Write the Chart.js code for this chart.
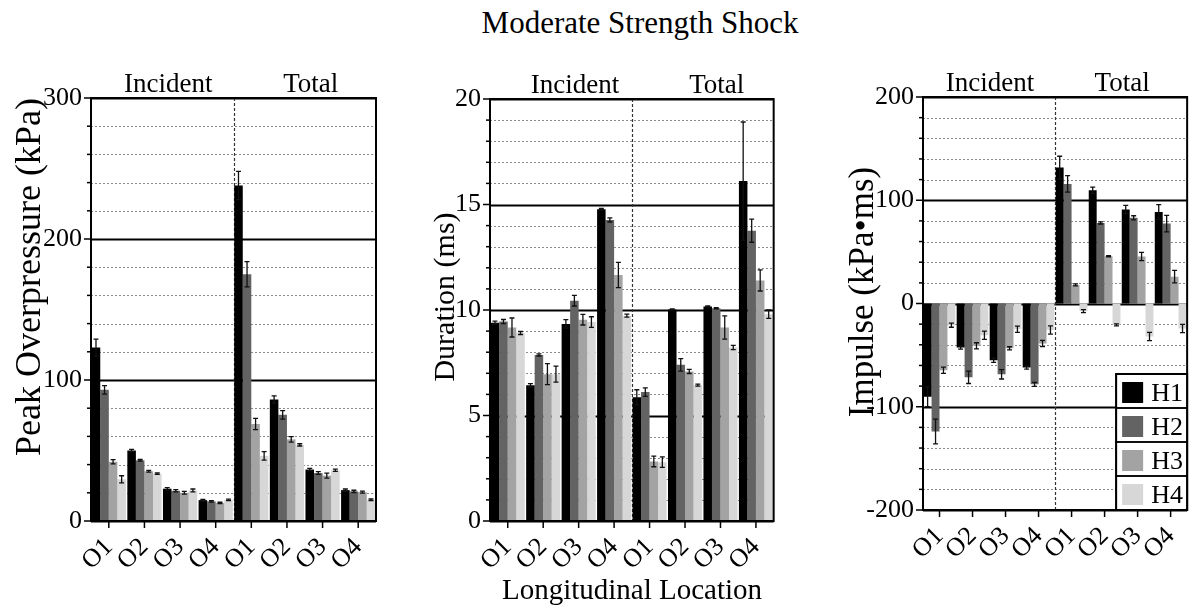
<!DOCTYPE html>
<html>
<head>
<meta charset="utf-8">
<script src="https://cdn.jsdelivr.net/npm/chart.js@4.4.0/dist/chart.umd.min.js"></script>
<style>
  body { margin: 0; background: #fff; width: 1204px; height: 613px; position: relative; overflow: hidden; font-family: "Liberation Serif", serif; color: #000; }
  canvas { position: absolute; top: 0; }
  .txt { position: absolute; text-align: center; white-space: nowrap; }
  #title { left: 440px; width: 400px; top: 8px; font-size: 31px; line-height: 30px; }
  #xtitle { left: 432px; width: 400px; top: 575px; font-size: 29px; line-height: 29px; }
</style>
</head>
<body>
<div class="txt" id="title">Moderate Strength Shock</div>
<canvas id="pressure-graph" width="395" height="613" style="left:0px"></canvas>
<canvas id="duration-graph" width="390" height="613" style="left:400px"></canvas>
<canvas id="impulse-graph" width="384" height="613" style="left:820px"></canvas>
<div class="txt" id="xtitle">Longitudinal Location</div>
<script>
/**
 * Declare all chart data
 */
const locations = ['O1', 'O2', 'O3', 'O4', 'O1', 'O2', 'O3', 'O4'];
const holes = ['H1', 'H2', 'H3', 'H4'];
const barColors = ['#000000', '#636363', '#a3a3a3', '#d7d7d7'];

// peak overpressure (kPa): incident O1-O4, then total O1-O4
const pressureH1 = [123, 50, 22.9, 14.8, 238, 86.2, 36.5, 21.9];
const pressureH2 = [93, 43, 21.4, 13.9, 175, 75.3, 34, 21];
const pressureH3 = [42, 35.3, 20, 12.9, 68.8, 57.9, 32.2, 20.5];
const pressureH4 = [29.6, 33.6, 21.7, 15, 46.2, 54, 36, 15];
const pressureErrH1 = [6, 0.8, 0.8, 0.6, 10, 2.5, 0.8, 0.8];
const pressureErrH2 = [3, 0.6, 0.8, 0.5, 9, 3, 1, 0.8];
const pressureErrH3 = [1.5, 0.6, 1, 0.5, 4, 2, 1.8, 0.7];
const pressureErrH4 = [2.5, 0.6, 1, 0.5, 3, 0.8, 0.8, 0.6];

// duration (ms)
const durationH1 = [9.40, 6.43, 9.34, 14.78, 5.87, 10.02, 10.17, 16.11];
const durationH2 = [9.45, 7.87, 10.44, 14.27, 6.11, 7.40, 10.08, 13.76];
const durationH3 = [9.17, 6.96, 9.54, 11.66, 2.82, 7.09, 9.17, 11.4];
const durationH4 = [8.91, 6.96, 9.43, 9.73, 2.79, 6.44, 8.22, 9.8];
const durationErrH1 = [0.07, 0.08, 0.2, 0.03, 0.35, 0.03, 0.03, 2.8];
const durationErrH2 = [0.1, 0.05, 0.25, 0.1, 0.2, 0.3, 0.03, 0.55];
const durationErrH3 = [0.45, 0.5, 0.25, 0.6, 0.25, 0.1, 0.55, 0.5];
const durationErrH4 = [0.07, 0.38, 0.25, 0.07, 0.25, 0.05, 0.1, 0.2];

// impulse (kPa*ms)
const impulseH1 = [-90.3, -42.7, -55, -62, 131.6, 109.7, 91, 88.7];
const impulseH2 = [-124, -71.5, -68.6, -78.3, 115.8, 78, 83, 77.4];
const impulseH3 = [-64.7, -41, -43.4, -38.8, 18, 45.8, 45.5, 26];
const impulseH4 = [-21, -30.7, -25, -25.6, -7.4, -20.7, -32, -24.3];
const impulseErrH1 = [9.5, 1.5, 2, 1.5, 11, 3, 4, 7];
const impulseErrH2 = [12, 6, 4.5, 2, 8, 1, 2, 8];
const impulseErrH3 = [3, 3, 1.5, 3, 1, 0.5, 4, 6];
const impulseErrH4 = [2, 4, 3, 4, 1.5, 1, 4, 4];

const serif = '"Liberation Serif", "Times New Roman", serif';

/**
 * Plugin: grid, separator, frame, tick marks, error bars, labels, legend
 */
const panelDecor = {
    id: 'panelDecor',
    beforeDatasetsDraw(chart, args, opts) {
        const { ctx, chartArea: a, scales: { x, y } } = chart;
        ctx.save();
        y.ticks.forEach(t => {
            const py = Math.round(y.getPixelForValue(t.value)) + 0.5;
            if (t.value % opts.major === 0) {
                ctx.strokeStyle = '#000';
                ctx.lineWidth = 2;
                ctx.setLineDash([]);
            } else {
                ctx.strokeStyle = '#8a8a8a';
                ctx.lineWidth = 1;
                ctx.setLineDash([2, 2]);
            }
            ctx.beginPath();
            ctx.moveTo(a.left, py);
            ctx.lineTo(a.right, py);
            ctx.stroke();
        });
        // incident / total separator
        const sx = Math.round((x.getPixelForTick(3) + x.getPixelForTick(4)) / 2) + 0.5;
        ctx.strokeStyle = '#333';
        ctx.lineWidth = 1.2;
        ctx.setLineDash([3, 2]);
        ctx.beginPath();
        ctx.moveTo(sx, a.top);
        ctx.lineTo(sx, a.bottom);
        ctx.stroke();
        ctx.restore();
    },
    afterDatasetsDraw(chart, args, opts) {
        const { ctx, chartArea: a, scales: { x, y } } = chart;
        ctx.save();
        // error bars
        ctx.strokeStyle = '#111';
        ctx.lineWidth = 1.3;
        chart.data.datasets.forEach((ds, di) => {
            const meta = chart.getDatasetMeta(di);
            meta.data.forEach((bar, i) => {
                const v = ds.data[i];
                const e = ds.errors[i];
                const y1 = y.getPixelForValue(v - e);
                const y2 = y.getPixelForValue(v + e);
                ctx.beginPath();
                ctx.moveTo(bar.x, y1);
                ctx.lineTo(bar.x, y2);
                ctx.moveTo(bar.x - 2.5, y1);
                ctx.lineTo(bar.x + 2.5, y1);
                ctx.moveTo(bar.x - 2.5, y2);
                ctx.lineTo(bar.x + 2.5, y2);
                ctx.stroke();
            });
        });
        // frame
        ctx.strokeStyle = '#000';
        ctx.lineWidth = 2;
        ctx.strokeRect(a.left, a.top, a.right - a.left, a.bottom - a.top);
        // tick marks
        ctx.lineWidth = 1.5;
        y.ticks.forEach(t => {
            const py = y.getPixelForValue(t.value);
            const len = t.value % opts.major === 0 ? 7 : 4;
            ctx.beginPath();
            ctx.moveTo(a.left - len, py);
            ctx.lineTo(a.left, py);
            ctx.stroke();
        });
        x.ticks.forEach((t, i) => {
            const px = x.getPixelForTick(i);
            ctx.beginPath();
            ctx.moveTo(px, a.bottom);
            ctx.lineTo(px, a.bottom + 7);
            ctx.stroke();
        });
        // section labels
        const sx = (x.getPixelForTick(3) + x.getPixelForTick(4)) / 2;
        ctx.fillStyle = '#000';
        ctx.font = '27px ' + serif;
        ctx.textAlign = 'center';
        ctx.textBaseline = 'alphabetic';
        ctx.fillText('Incident', (a.left + sx) / 2 + opts.shift, a.top - 6);
        ctx.fillText('Total', (sx + a.right) / 2 + opts.shift, a.top - 6);
        // y axis title
        ctx.save();
        ctx.translate(opts.titleX, opts.titleY);
        ctx.rotate(-Math.PI / 2);
        ctx.font = opts.titleSize + 'px ' + serif;
        ctx.textBaseline = 'middle';
        ctx.fillText(opts.yTitle, 0, 0);
        ctx.restore();
        // legend box
        if (opts.legend) {
            const rowH = 34;
            const w = 71;
            const lx = a.right - w;
            const ly = a.bottom - rowH * 4;
            ctx.fillStyle = '#fff';
            ctx.fillRect(lx, ly, w, rowH * 4);
            ctx.font = '26px ' + serif;
            ctx.textAlign = 'left';
            chart.data.datasets.forEach((ds, di) => {
                const ry = ly + di * rowH;
                ctx.fillStyle = ds.backgroundColor;
                ctx.fillRect(lx + 6, ry + 8, 21, 21);
                ctx.fillStyle = '#000';
                ctx.fillText(ds.label, lx + 35, ry + 27);
                ctx.lineWidth = 1.5;
                ctx.strokeRect(lx, ry, w, rowH);
            });
            ctx.lineWidth = 2;
            ctx.strokeRect(lx, ly, w, rowH * 4);
        }
        ctx.restore();
    }
};

/**
 * Build one panel
 */
const makePanel = (canvasId, values, errors, cfg) => {
    const datasets = holes.map((name, i) => ({
        label: name,
        data: values[i],
        errors: errors[i],
        backgroundColor: barColors[i],
        borderWidth: 0,
        barPercentage: 1.0,
        categoryPercentage: 0.96
    }));
    return new Chart(document.getElementById(canvasId), {
        type: 'bar',
        data: { labels: locations, datasets: datasets },
        options: {
            animation: false,
            responsive: false,
            layout: { padding: { top: cfg.top, right: cfg.right, left: 0, bottom: 0 } },
            plugins: {
                legend: { display: false },
                tooltip: { enabled: false },
                panelDecor: cfg
            },
            scales: {
                x: {
                    grid: { display: false, drawTicks: false },
                    border: { display: false },
                    ticks: {
                        maxRotation: 45,
                        minRotation: 45,
                        autoSkip: false,
                        padding: 11,
                        color: '#000',
                        font: { family: serif, size: 26 }
                    },
                    afterFit: s => { s.height = cfg.xHeight; }
                },
                y: {
                    min: cfg.min,
                    max: cfg.max,
                    grid: { display: false, drawTicks: false },
                    border: { display: false },
                    ticks: {
                        stepSize: cfg.minor,
                        autoSkip: false,
                        padding: 9,
                        color: '#000',
                        font: { family: serif, size: 26 },
                        callback: v => (v % cfg.major === 0 ? v : '')
                    },
                    afterFit: s => { s.width = cfg.yWidth; }
                }
            }
        },
        plugins: [panelDecor]
    });
};

const pressureChart = makePanel('pressure-graph',
    [pressureH1, pressureH2, pressureH3, pressureH4],
    [pressureErrH1, pressureErrH2, pressureErrH3, pressureErrH4],
    { min: 0, max: 300, minor: 20, major: 100, yTitle: 'Peak Overpressure (kPa)',
      top: 98, right: 19, yWidth: 91, xHeight: 92, shift: 6, legend: false,
      titleX: 31, titleY: 277, titleSize: 36 });

const durationChart = makePanel('duration-graph',
    [durationH1, durationH2, durationH3, durationH4],
    [durationErrH1, durationErrH2, durationErrH3, durationErrH4],
    { min: 0, max: 20, minor: 1, major: 5, yTitle: 'Duration (ms)',
      top: 99, right: 16, yWidth: 90, xHeight: 92, shift: 14, legend: false,
      titleX: 46, titleY: 297, titleSize: 30 });

const impulseChart = makePanel('impulse-graph',
    [impulseH1, impulseH2, impulseH3, impulseH4],
    [impulseErrH1, impulseErrH2, impulseErrH3, impulseErrH4],
    { min: -200, max: 200, minor: 20, major: 100, yTitle: 'Impulse (kPa\u2022ms)',
      top: 97, right: 5, yWidth: 103, xHeight: 103, shift: 1, legend: true,
      titleX: 44, titleY: 292, titleSize: 35 });
</script>
</body>
</html>
